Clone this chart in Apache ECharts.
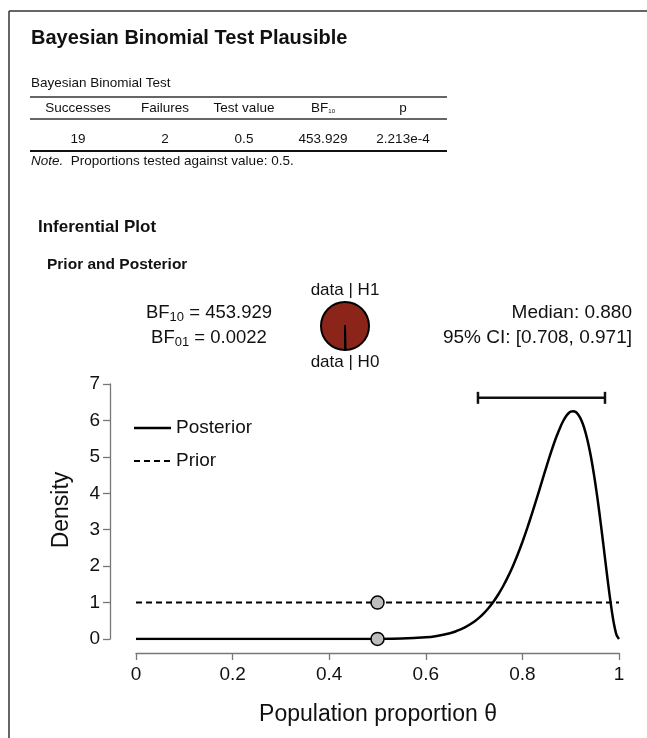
<!DOCTYPE html>
<html>
<head>
<meta charset="utf-8">
<script src="https://cdn.jsdelivr.net/npm/echarts@6/dist/echarts.min.js"></script>
<style>
html,body{margin:0;padding:0;background:#fff;}
#chart{width:647px;height:738px;}
</style>
</head>
<body>
<div id="chart"></div>
<script>
// ---- data ----
var thetaGrid = [0, 0.1, 0.2, 0.3, 0.4, 0.45, 0.5, 0.55, 0.6, 0.62, 0.65, 0.66, 0.68,
  0.7, 0.71, 0.72, 0.73, 0.74, 0.75, 0.76, 0.77, 0.78, 0.79, 0.8, 0.81, 0.82, 0.83, 0.84, 0.85, 0.86, 0.87, 0.88,
  0.885, 0.89, 0.895, 0.9, 0.905, 0.91, 0.915, 0.92, 0.925, 0.93, 0.935, 0.94, 0.945, 0.95, 0.955, 0.96, 0.965,
  0.97, 0.975, 0.98, 0.985, 0.99, 0.995, 1];
var posteriorDensity = [0, 0, 0, 0, 0.0001, 0.0004, 0.0022, 0.0109, 0.045, 0.076, 0.158, 0.199, 0.311,
  0.474, 0.580, 0.705, 0.852, 1.023, 1.221, 1.448, 1.705, 1.993, 2.312, 2.663, 3.043, 3.449, 3.872, 4.306, 4.740, 5.156, 5.538, 5.863,
  5.998, 6.110, 6.190, 6.241, 6.251, 6.236, 6.171, 6.064, 5.909, 5.702, 5.444, 5.133, 4.771, 4.358, 3.901, 3.403, 2.876,
  2.331, 1.785, 1.259, 0.780, 0.382, 0.105, 0];
var priorTheta = [0, 1];
var priorDensity = [1, 1];
var testValue = 0.5;
var pointDensities = [1, 0.0022];          // prior and posterior density at test value
var ciLower = 0.708, ciUpper = 0.971, ciHeight = 6.62;
var bf10 = 453.929, bf01 = 0.0022;
var pieLabels = ['data | H1', 'data | H0'];
var pieValues = [453.929, 1];
var xTicks = [0, 0.2, 0.4, 0.6, 0.8, 1];
var yTicks = [0, 1, 2, 3, 4, 5, 6, 7];
var tableHeaders = ['Successes', 'Failures', 'Test value', 'BF10', 'p'];
var tableRow = ['19', '2', '0.5', '453.929', '2.213e-4'];
var seriesNames = ['Posterior', 'Prior'];

// ---- build ----
var chart = echarts.init(document.getElementById('chart'), null, {renderer: 'canvas'});
var FONT = '"Liberation Sans", Arial, Helvetica, sans-serif';
var colX = [78, 165, 244, 323, 403];

var graphics = [
  {type: 'line', shape: {x1: 9, y1: 11, x2: 647, y2: 11}, style: {stroke: '#333', lineWidth: 1.5}},
  {type: 'line', shape: {x1: 9, y1: 11, x2: 9, y2: 738}, style: {stroke: '#333', lineWidth: 1.5}},
  {type: 'text', left: 31, top: 28, style: {text: 'Bayesian Binomial Test Plausible', font: 'bold 20px ' + FONT, fill: '#111'}},
  {type: 'text', left: 31, top: 76, style: {text: 'Bayesian Binomial Test', font: '13.5px ' + FONT, fill: '#111'}},
  {type: 'line', shape: {x1: 30, y1: 97, x2: 447, y2: 97}, style: {stroke: '#333', lineWidth: 1.3}},
  {type: 'line', shape: {x1: 30, y1: 119, x2: 447, y2: 119}, style: {stroke: '#333', lineWidth: 1.3}},
  {type: 'line', shape: {x1: 30, y1: 151, x2: 447, y2: 151}, style: {stroke: '#111', lineWidth: 2.2}},
  {type: 'text', left: 31, top: 154, style: {
    text: '{i|Note.}  Proportions tested against value: 0.5.',
    rich: {i: {font: 'italic 13.5px ' + FONT, fill: '#111'}},
    font: '13.5px ' + FONT, fill: '#111'}},
  {type: 'text', left: 38, top: 219, style: {text: 'Inferential Plot', font: 'bold 17px ' + FONT, fill: '#111'}},
  {type: 'text', left: 47, top: 257, style: {text: 'Prior and Posterior', font: 'bold 15.5px ' + FONT, fill: '#111'}},
  {type: 'text', x: 209, y: 313, style: {
    text: 'BF{s|10} = ' + bf10.toFixed(3), align: 'center', verticalAlign: 'middle',
    font: '18.5px ' + FONT, fill: '#111', rich: {s: {font: '13px ' + FONT, fill: '#111', padding: [9, 0, 0, 0]}}}},
  {type: 'text', x: 209, y: 338, style: {
    text: 'BF{s|01} = ' + bf01.toFixed(4), align: 'center', verticalAlign: 'middle',
    font: '18.5px ' + FONT, fill: '#111', rich: {s: {font: '13px ' + FONT, fill: '#111', padding: [9, 0, 0, 0]}}}},
  {type: 'text', x: 345, y: 290, style: {text: pieLabels[0], align: 'center', verticalAlign: 'middle', font: '17px ' + FONT, fill: '#111'}},
  {type: 'text', x: 345, y: 362, style: {text: pieLabels[1], align: 'center', verticalAlign: 'middle', font: '17px ' + FONT, fill: '#111'}},
  {type: 'text', x: 632, y: 313, style: {text: 'Median: 0.880', align: 'right', verticalAlign: 'middle', font: '19px ' + FONT, fill: '#111'}},
  {type: 'text', x: 632, y: 338, style: {text: '95% CI: [' + ciLower.toFixed(3) + ', ' + ciUpper.toFixed(3) + ']', align: 'right', verticalAlign: 'middle', font: '19px ' + FONT, fill: '#111'}},
  {type: 'text', x: 378, y: 715, style: {text: 'Population proportion θ', align: 'center', verticalAlign: 'middle', font: '23px ' + FONT, fill: '#111'}},
  {type: 'text', x: 62, y: 510, rotation: Math.PI / 2, style: {text: 'Density', align: 'center', verticalAlign: 'middle', font: '23px ' + FONT, fill: '#111'}},
  // legend
  {type: 'line', shape: {x1: 134, y1: 428, x2: 171, y2: 428}, style: {stroke: '#000', lineWidth: 2.5}},
  {type: 'text', x: 176, y: 428, style: {text: seriesNames[0], verticalAlign: 'middle', font: '19px ' + FONT, fill: '#111'}},
  {type: 'line', shape: {x1: 134, y1: 461, x2: 171, y2: 461}, style: {stroke: '#000', lineWidth: 2, lineDash: [6, 4]}},
  {type: 'text', x: 176, y: 461, style: {text: seriesNames[1], verticalAlign: 'middle', font: '19px ' + FONT, fill: '#111'}}
];
tableHeaders.forEach(function (h, i) {
  var txt = h === 'BF10' ? 'BF{s|10}' : h;
  graphics.push({type: 'text', x: colX[i], y: 108, style: {
    text: txt, align: 'center', verticalAlign: 'middle', font: '13.5px ' + FONT, fill: '#111',
    rich: {s: {font: '6px ' + FONT, fill: '#111', padding: [7, 0, 0, 0]}}}});
});
tableRow.forEach(function (v, i) {
  graphics.push({type: 'text', x: colX[i], y: 139, style: {text: v, align: 'center', verticalAlign: 'middle', font: '13.5px ' + FONT, fill: '#111'}});
});

var option = {
  animation: false,
  backgroundColor: '#fff',
  grid: {left: 136, right: 28, top: 384, bottom: 99, containLabel: false},
  xAxis: {
    type: 'value', min: xTicks[0], max: xTicks[xTicks.length - 1], interval: 0.2, offset: 14,
    axisLine: {show: true, onZero: false, lineStyle: {color: '#777', width: 1.3}},
    axisTick: {show: true, length: 7, lineStyle: {color: '#777', width: 1.3}},
    axisLabel: {margin: 12, fontSize: 19, color: '#111', fontFamily: FONT},
    splitLine: {show: false}
  },
  yAxis: {
    type: 'value', min: yTicks[0], max: yTicks[yTicks.length - 1], interval: 1, offset: 26,
    axisLine: {show: true, onZero: false, lineStyle: {color: '#777', width: 1.3}},
    axisTick: {show: true, length: 7, lineStyle: {color: '#777', width: 1.3}},
    axisLabel: {margin: 10, fontSize: 19, color: '#111', fontFamily: FONT},
    splitLine: {show: false}
  },
  series: [
    {
      name: seriesNames[0], type: 'line', symbol: 'none', smooth: 0.2,
      data: thetaGrid.map(function (t, i) { return [t, posteriorDensity[i]]; }),
      lineStyle: {color: '#000', width: 2.5}, itemStyle: {color: '#000'}, z: 3
    },
    {
      name: seriesNames[1], type: 'line', symbol: 'none',
      data: priorTheta.map(function (t, i) { return [t, priorDensity[i]]; }),
      lineStyle: {color: '#000', width: 2, type: [6, 4]}, itemStyle: {color: '#000'}, z: 2
    },
    {
      type: 'scatter', symbol: 'circle', symbolSize: 13,
      data: pointDensities.map(function (d) { return [testValue, d]; }),
      itemStyle: {color: '#bdbdbd', borderColor: '#000', borderWidth: 1.5, opacity: 1}, z: 5
    },
    {
      type: 'custom',
      data: [[ciLower, ciUpper, ciHeight]],
      renderItem: function (params, api) {
        var a = api.coord([api.value(0), api.value(2)]);
        var b = api.coord([api.value(1), api.value(2)]);
        var st = {stroke: '#111', lineWidth: 2.5};
        return {type: 'group', children: [
          {type: 'line', shape: {x1: a[0], y1: a[1], x2: b[0], y2: b[1]}, style: st},
          {type: 'line', shape: {x1: a[0], y1: a[1] - 6, x2: a[0], y2: a[1] + 6}, style: st},
          {type: 'line', shape: {x1: b[0], y1: b[1] - 6, x2: b[0], y2: b[1] + 6}, style: st}
        ]};
      },
      z: 4
    },
    {
      type: 'pie', center: [345, 326], radius: 24, startAngle: 270, clockwise: true,
      label: {show: false}, labelLine: {show: false}, silent: true,
      data: [
        {name: pieLabels[0], value: pieValues[0], itemStyle: {color: '#8c2519'}},
        {name: pieLabels[1], value: pieValues[1], itemStyle: {color: '#ffffff'}}
      ],
      itemStyle: {borderColor: '#000', borderWidth: 2}
    }
  ],
  graphic: graphics
};
chart.setOption(option);
</script>
</body>
</html>
